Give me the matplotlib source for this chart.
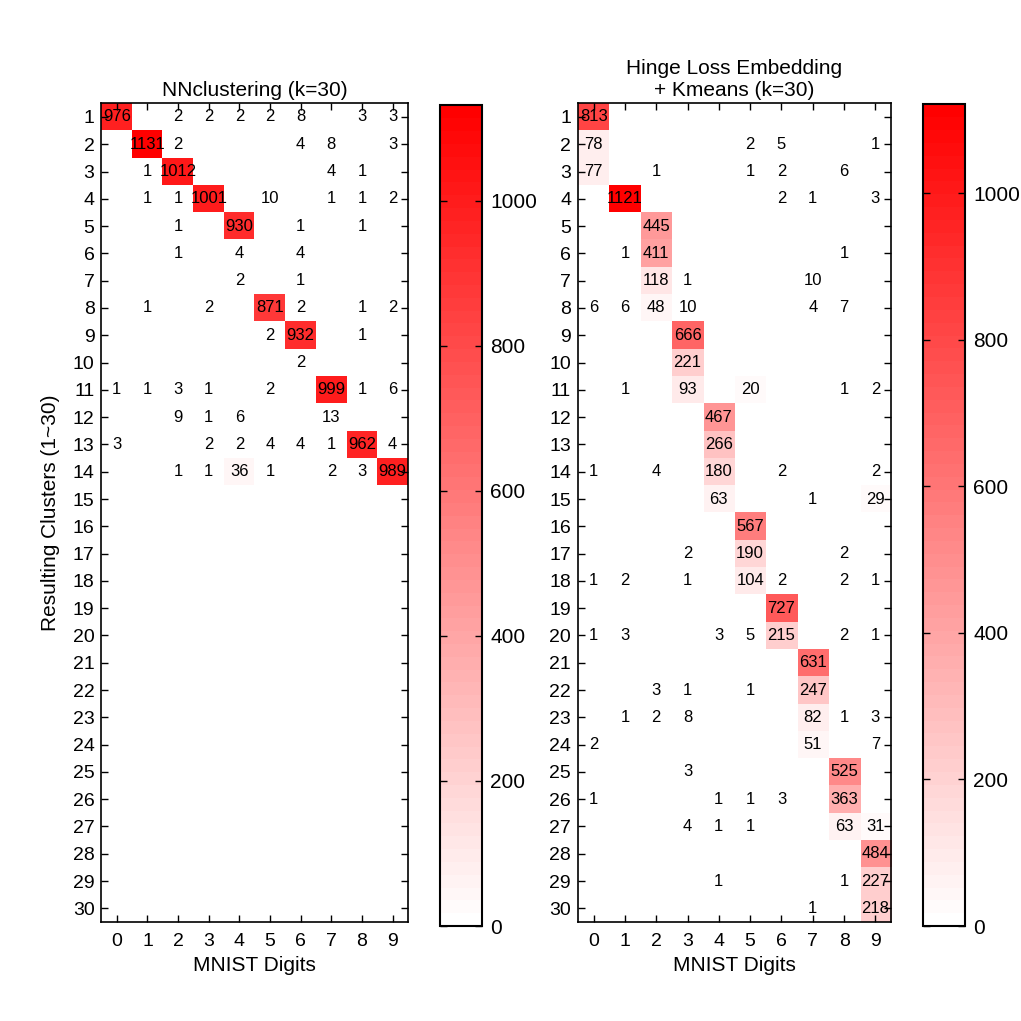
import matplotlib
matplotlib.use("Agg")
import matplotlib.pyplot as plt
import numpy as np
from matplotlib.colors import LinearSegmentedColormap

plt.rcParams['font.family'] = ['Liberation Sans', 'DejaVu Sans']

digits = [str(d) for d in range(10)]
clusters = [str(c) for c in range(1, 31)]

# NNclustering confusion counts: rows = clusters 1..30, cols = digits 0..9
nn_rows = [
    [976, 0, 2, 2, 2, 2, 8, 0, 3, 3],
    [0, 1131, 2, 0, 0, 0, 4, 8, 0, 3],
    [0, 1, 1012, 0, 0, 0, 0, 4, 1, 0],
    [0, 1, 1, 1001, 0, 10, 0, 1, 1, 2],
    [0, 0, 1, 0, 930, 0, 1, 0, 1, 0],
    [0, 0, 1, 0, 4, 0, 4, 0, 0, 0],
    [0, 0, 0, 0, 2, 0, 1, 0, 0, 0],
    [0, 1, 0, 2, 0, 871, 2, 0, 1, 2],
    [0, 0, 0, 0, 0, 2, 932, 0, 1, 0],
    [0, 0, 0, 0, 0, 0, 2, 0, 0, 0],
    [1, 1, 3, 1, 0, 2, 0, 999, 1, 6],
    [0, 0, 9, 1, 6, 0, 0, 13, 0, 0],
    [3, 0, 0, 2, 2, 4, 4, 1, 962, 4],
    [0, 0, 1, 1, 36, 1, 0, 2, 3, 989],
] + [[0] * 10] * 16

# Hinge loss embedding + kmeans
hl_rows = [
    [813, 0, 0, 0, 0, 0, 0, 0, 0, 0],
    [78, 0, 0, 0, 0, 2, 5, 0, 0, 1],
    [77, 0, 1, 0, 0, 1, 2, 0, 6, 0],
    [0, 1121, 0, 0, 0, 0, 2, 1, 0, 3],
    [0, 0, 445, 0, 0, 0, 0, 0, 0, 0],
    [0, 1, 411, 0, 0, 0, 0, 0, 1, 0],
    [0, 0, 118, 1, 0, 0, 0, 10, 0, 0],
    [6, 6, 48, 10, 0, 0, 0, 4, 7, 0],
    [0, 0, 0, 666, 0, 0, 0, 0, 0, 0],
    [0, 0, 0, 221, 0, 0, 0, 0, 0, 0],
    [0, 1, 0, 93, 0, 20, 0, 0, 1, 2],
    [0, 0, 0, 0, 467, 0, 0, 0, 0, 0],
    [0, 0, 0, 0, 266, 0, 0, 0, 0, 0],
    [1, 0, 4, 0, 180, 0, 2, 0, 0, 2],
    [0, 0, 0, 0, 63, 0, 0, 1, 0, 29],
    [0, 0, 0, 0, 0, 567, 0, 0, 0, 0],
    [0, 0, 0, 2, 0, 190, 0, 0, 2, 0],
    [1, 2, 0, 1, 0, 104, 2, 0, 2, 1],
    [0, 0, 0, 0, 0, 0, 727, 0, 0, 0],
    [1, 3, 0, 0, 3, 5, 215, 0, 2, 1],
    [0, 0, 0, 0, 0, 0, 0, 631, 0, 0],
    [0, 0, 3, 1, 0, 1, 0, 247, 0, 0],
    [0, 1, 2, 8, 0, 0, 0, 82, 1, 3],
    [2, 0, 0, 0, 0, 0, 0, 51, 0, 7],
    [0, 0, 0, 3, 0, 0, 0, 0, 525, 0],
    [1, 0, 0, 0, 1, 1, 3, 0, 363, 0],
    [0, 0, 0, 4, 1, 1, 0, 0, 63, 31],
    [0, 0, 0, 0, 0, 0, 0, 0, 0, 484],
    [0, 0, 0, 0, 1, 0, 0, 0, 1, 227],
    [0, 0, 0, 0, 0, 0, 0, 1, 0, 218],
]

titles = ["NNclustering (k=30)", "Hinge Loss Embedding\n+ Kmeans (k=30)"]

cmap = LinearSegmentedColormap.from_list("wr", ["#ffffff", "#ff0000"], N=64)

fig = plt.figure(figsize=(10.21, 10.21), dpi=100)

ax_pos = [[0.0994, 0.097, 0.3002, 0.8018], [0.5661, 0.097, 0.3066, 0.8018]]
cb_pos = [[0.431, 0.093, 0.041, 0.8037], [0.9043, 0.093, 0.041, 0.8047]]


def draw_panel(m, title, apos, cpos, ylabel):
    m = np.array(m)
    ax = fig.add_axes(apos)
    im = ax.imshow(m, cmap=cmap, vmin=0, vmax=m.max(), aspect='auto',
                   interpolation='nearest')
    for i in range(m.shape[0]):
        for j in range(m.shape[1]):
            if m[i, j] > 0:
                ax.text(j, i, str(m[i, j]), ha='center', va='center',
                        fontsize=12, color='black')
    ax.set_xticks(range(10))
    ax.set_xticklabels(digits)
    ax.set_yticks(range(30))
    ax.set_yticklabels(clusters)
    ax.tick_params(direction='in', top=True, right=True, labelsize=14,
                   length=5, width=1, pad=5)
    ax.tick_params(axis='x', pad=8)
    ax.set_xlabel('MNIST Digits', fontsize=15, labelpad=4)
    if ylabel:
        ax.set_ylabel('Resulting Clusters (1~30)', fontsize=15, labelpad=9)
    ax.set_title(title, fontsize=15, pad=5, linespacing=1.2)
    for s in ax.spines.values():
        s.set_linewidth(1.2)

    cax = fig.add_axes(cpos)
    cb = fig.colorbar(im, cax=cax, ticks=[0, 200, 400, 600, 800, 1000])
    cb.ax.tick_params(direction='in', left=True, right=True, labelsize=15,
                      length=5, width=1, pad=6)
    cb.outline.set_linewidth(1.5)


draw_panel(nn_rows, titles[0], ax_pos[0], cb_pos[0], True)
draw_panel(hl_rows, titles[1], ax_pos[1], cb_pos[1], False)

fig.savefig('out.png', dpi=100)
